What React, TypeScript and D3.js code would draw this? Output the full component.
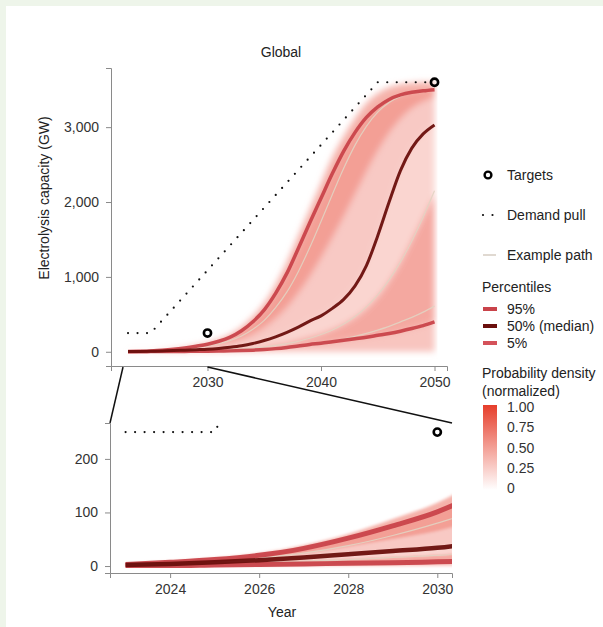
import React, { useRef, useEffect } from "react";
import * as d3 from "d3";

// yearly quantiles of the simulated capacity paths (GW)
const years = [2023, 2024, 2025, 2026, 2027, 2028, 2029, 2030, 2031, 2032, 2033, 2034, 2035, 2036, 2037, 2038, 2039, 2040, 2041, 2042, 2043, 2044, 2045, 2046, 2047, 2048, 2049, 2050];
const p0 = [0, 0, 0, 0, 0, 0, 0, 0, 0, 0, 0, 0, 0, 0, 0, 0, 0, 0, 0, 0, 0, 0, 0, 0, 0, 0, 0, 0];
const p5 = [1, 1, 2, 3, 4, 5, 6, 8, 10, 12, 16, 22, 30, 42, 58, 78, 98, 115, 135, 155, 175, 195, 220, 245, 275, 310, 350, 400];
const p25 = [1.5, 3, 5, 7, 10, 13, 17, 21, 27, 34, 44, 57, 75, 97, 125, 160, 200, 245, 300, 370, 460, 580, 740, 950, 1200, 1500, 1800, 2100];
const p50 = [2, 4, 7, 11, 16, 22, 28, 34, 45, 60, 80, 110, 150, 200, 260, 330, 410, 480, 580, 700, 880, 1150, 1550, 2000, 2420, 2720, 2910, 3030];
const p75 = [2.5, 5.5, 9.5, 15, 24, 36, 50, 65, 88, 120, 165, 230, 320, 440, 590, 780, 1000, 1250, 1520, 1800, 2100, 2400, 2680, 2920, 3110, 3250, 3340, 3400];
const p95 = [3, 7, 12, 20, 33, 52, 75, 101, 140, 195, 280, 400, 560, 780, 1050, 1380, 1720, 2050, 2380, 2680, 2930, 3130, 3270, 3370, 3430, 3465, 3485, 3500];
const pMax = [4, 9, 15, 24, 39, 60, 88, 118, 165, 230, 330, 470, 650, 900, 1200, 1550, 1900, 2250, 2600, 2880, 3120, 3320, 3450, 3530, 3570, 3590, 3600, 3600];

// normalized density of each band between neighbouring quantiles
const bandEdges = [p0, p5, p25, p50, p75, p95, pMax];
const bandDensity = [0.3, 0.45, 0.22, 0.28, 0.5, 0.4];

const examplePaths = [
  [2, 5, 9, 15, 24, 38, 57, 80, 108, 150, 210, 300, 420, 590, 800, 1070, 1390, 1740, 2100, 2450, 2760, 3010, 3200, 3330, 3410, 3460, 3490, 3500],
  [1, 2, 4, 6, 9, 12, 16, 20, 25, 32, 40, 52, 66, 85, 110, 140, 180, 230, 290, 370, 470, 600, 760, 960, 1200, 1480, 1800, 2150],
  [1, 2, 3, 4, 5, 6, 8, 10, 13, 16, 20, 26, 34, 44, 57, 73, 92, 115, 140, 170, 205, 245, 290, 340, 400, 460, 530, 610],
];

const demandYears = [2023, 2025, 2045, 2050];
const demandValues = [250, 250, 3600, 3600];
const targetYears = [2030, 2050];
const targetValues = [250, 3600];

const topXTicks = [2030, 2040, 2050];
const topYTicks = [0, 1000, 2000, 3000];
const bottomXTicks = [2024, 2026, 2028, 2030];
const bottomYTicks = [0, 100, 200];
const densityTicks = [0, 0.25, 0.5, 0.75, 1];

const FONT = "'Liberation Sans', Arial, sans-serif";
const FS = 14;
const RED = "#c9434a";
const DARK = "#6a0f0c";
const color = d3.interpolateRgb("#ffffff", "#e63e2b");

const App = () => {
  const svgRef = useRef(null);

  useEffect(() => {
    const svg = d3.select(svgRef.current);
    svg.selectAll("*").remove();

    svg.append("rect").attr("width", 603).attr("height", 627).attr("fill", "#eef5ea");
    svg.append("rect").attr("x", 6).attr("y", 6).attr("width", 597).attr("height", 621).attr("fill", "#ffffff");

    const defs = svg.append("defs");
    defs.append("filter").attr("id", "blurTop").attr("x", "-10%").attr("y", "-10%").attr("width", "120%").attr("height", "120%")
      .append("feGaussianBlur").attr("stdDeviation", 3);
    defs.append("filter").attr("id", "blurBot").attr("x", "-10%").attr("y", "-10%").attr("width", "120%").attr("height", "120%")
      .append("feGaussianBlur").attr("stdDeviation", 1.5);

    const panel = (opt) => {
      const { x, y, clipId, blurId, lw, xTicks, yTicks, yFormat } = opt;
      const [x0, x1] = x.range();
      const [y0, y1] = y.range();

      defs.append("clipPath").attr("id", clipId)
        .append("rect").attr("x", x0).attr("y", y1).attr("width", Math.min(x(2050) + 3, x1) - x0).attr("height", y0 - y1 - 2);
      defs.append("clipPath").attr("id", clipId + "all")
        .append("rect").attr("x", x0).attr("y", y1).attr("width", x1 - x0).attr("height", y0 - y1);

      // density bands
      const dens = svg.append("g").attr("clip-path", `url(#${clipId})`).append("g").attr("filter", `url(#${blurId})`);
      bandDensity.forEach((d, i) => {
        const area = d3.area()
          .x((_, j) => x(years[j]))
          .y0((_, j) => y(bandEdges[i][j]))
          .y1((_, j) => y(bandEdges[i + 1][j]))
          .curve(d3.curveMonotoneX);
        dens.append("path").attr("d", area(years)).attr("fill", color(d));
      });

      const g = svg.append("g").attr("clip-path", `url(#${clipId}all)`);
      const line = d3.line().x((d) => x(d[0])).y((d) => y(d[1])).curve(d3.curveMonotoneX);

      examplePaths.forEach((p) => {
        g.append("path").attr("d", line(years.map((yr, j) => [yr, p[j]])))
          .attr("fill", "none").attr("stroke", "#e2d3c2").attr("stroke-width", 1.2).attr("opacity", 0.9);
      });

      [[p5, RED, lw], [p95, RED, lw], [p50, DARK, lw - 0.5]].forEach(([p, c, w]) => {
        g.append("path").attr("d", line(years.map((yr, j) => [yr, p[j]])))
          .attr("fill", "none").attr("stroke", c).attr("stroke-width", w).attr("opacity", 0.95);
      });

      g.append("path")
        .attr("d", d3.line().x((d) => x(d[0])).y((d) => y(d[1]))(demandYears.map((yr, j) => [yr, demandValues[j]])))
        .attr("fill", "none").attr("stroke", "#111").attr("stroke-width", 2.2)
        .attr("stroke-linecap", "round").attr("stroke-dasharray", "0 9.5");

      svg.append("g").selectAll("circle").data(targetYears).join("circle")
        .attr("cx", (d) => x(d)).attr("cy", (d, i) => y(targetValues[i]))
        .attr("r", 3.6).attr("fill", "none").attr("stroke", "#000").attr("stroke-width", 2.6)
        .attr("display", (d, i) => (targetValues[i] <= y.domain()[1] ? null : "none"));

      const styleAxis = (ax) => {
        ax.select(".domain").attr("stroke", "#8a8a8a");
        ax.selectAll(".tick line").attr("stroke", "#8a8a8a");
        ax.selectAll("text").attr("fill", "#333").style("font-size", FS + "px").style("font-family", FONT);
      };
      const xa = svg.append("g").attr("transform", `translate(0,${y0})`)
        .call(d3.axisBottom(x).tickValues(xTicks).tickFormat(d3.format("d")).tickSizeOuter(0).tickSize(5).tickPadding(6));
      styleAxis(xa);
      const ya = svg.append("g").attr("transform", `translate(${x0},0)`)
        .call(d3.axisLeft(y).tickValues(yTicks).tickFormat(yFormat).tickSizeOuter(0).tickSize(5).tickPadding(7));
      styleAxis(ya);
    };

    const xTop = d3.scaleLinear().domain([2021.5, 2051.1]).range([111, 447]);
    const yTop = d3.scaleLinear().domain([-190, 3790]).range([366, 68]);
    const xBot = d3.scaleLinear().domain([2022.65, 2030.33]).range([110, 452]);
    const yBot = d3.scaleLinear().domain([-13, 267]).range([573, 423]);

    panel({ x: xTop, y: yTop, clipId: "clipTop", blurId: "blurTop", lw: 3.5, xTicks: topXTicks, yTicks: topYTicks, yFormat: d3.format(",") });
    panel({ x: xBot, y: yBot, clipId: "clipBot", blurId: "blurBot", lw: 5, xTicks: bottomXTicks, yTicks: bottomYTicks, yFormat: d3.format("d") });

    // zoom connectors
    svg.append("line").attr("x1", xTop(2023) - 5).attr("y1", 367).attr("x2", 110).attr("y2", 423)
      .attr("stroke", "#111").attr("stroke-width", 1.5);
    svg.append("line").attr("x1", xTop(2030)).attr("y1", 367).attr("x2", 452).attr("y2", 423)
      .attr("stroke", "#111").attr("stroke-width", 1.5);

    const text = (x, y, s, opts = {}) => {
      const t = svg.append("text").attr("x", x).attr("y", y).text(s)
        .attr("fill", opts.fill || "#222").style("font-family", FONT).style("font-size", (opts.size || FS) + "px")
        .attr("text-anchor", opts.anchor || "start").attr("dominant-baseline", "central");
      if (opts.rotate) t.attr("transform", `rotate(-90,${x},${y})`);
      return t;
    };

    text(281, 52, "Global", { anchor: "middle" });
    text(44, 198, "Electrolysis capacity (GW)", { anchor: "middle", rotate: true });
    text(282, 612, "Year", { anchor: "middle" });

    // legend
    const lx = 507;
    svg.append("circle").attr("cx", 488).attr("cy", 175).attr("r", 3.4).attr("fill", "none").attr("stroke", "#000").attr("stroke-width", 2.4);
    text(lx, 175, "Targets");
    svg.append("line").attr("x1", 483).attr("x2", 493).attr("y1", 215).attr("y2", 215).attr("stroke", "#111")
      .attr("stroke-width", 2.2).attr("stroke-linecap", "round").attr("stroke-dasharray", "0 9.5");
    text(lx, 215, "Demand pull");
    svg.append("line").attr("x1", 483).attr("x2", 496).attr("y1", 255).attr("y2", 255).attr("stroke", "#d6ccc2").attr("stroke-width", 1.5);
    text(lx, 255, "Example path");
    text(482, 287, "Percentiles");
    [["95%", RED, 309], ["50% (median)", DARK, 326], ["5%", "#d4525a", 343]].forEach(([s, c, yy]) => {
      svg.append("line").attr("x1", 483).attr("x2", 497).attr("y1", yy).attr("y2", yy).attr("stroke", c).attr("stroke-width", 4);
      text(lx, yy, s);
    });
    text(482, 373, "Probability density");
    text(482, 391, "(normalized)");

    const grad = defs.append("linearGradient").attr("id", "densGrad").attr("x1", 0).attr("x2", 0).attr("y1", 1).attr("y2", 0);
    densityTicks.forEach((t) => grad.append("stop").attr("offset", t).attr("stop-color", color(t)));
    const dy = d3.scaleLinear().domain([0, 1]).range([488, 407]);
    svg.append("rect").attr("x", 483).attr("y", dy(1) - 2).attr("width", 14).attr("height", dy(0) - dy(1) + 4)
      .attr("fill", "url(#densGrad)");
    densityTicks.forEach((t) => text(lx, dy(t), t === 0 ? "0" : d3.format(".2f")(t), { fill: "#333" }));
  }, []);

  return (
    <div style={{ position: "absolute", left: 0, top: 0 }}>
      <svg ref={svgRef} width={603} height={627} style={{ display: "block" }} />
    </div>
  );
};

export default App;
